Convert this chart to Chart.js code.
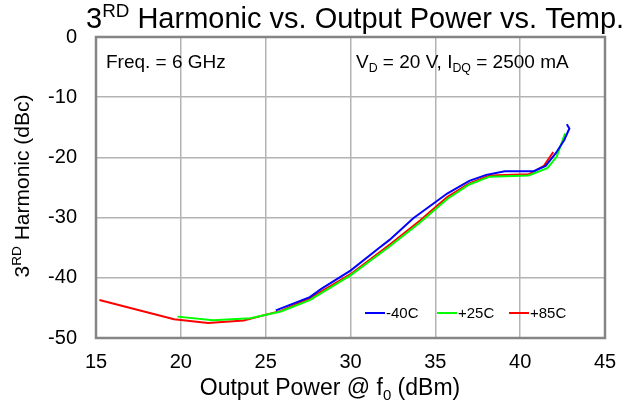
<!DOCTYPE html>
<html>
<head>
<meta charset="utf-8">
<script src="https://cdn.jsdelivr.net/npm/chart.js@4/dist/chart.umd.min.js"></script>
<style>
  html, body { margin: 0; padding: 0; background: #fff; }
  #chart { display: block; }
</style>
</head>
<body>
<canvas id="chart" width="639" height="410"></canvas>
<script>
  'use strict';

  // values: x = output power (dBm), y = 3rd harmonic (dBc)
  var xTicks = [15, 20, 25, 30, 35, 40, 45];
  var yTicks = [-50, -40, -30, -20, -10, 0];

  var seriesNames = ['-40C', '+25C', '+85C'];

  var coldX = [25.6, 27.6, 28.3, 30.0, 31.7, 32.3, 33.7, 35.7, 37.0, 38.0, 39.1, 40.8, 41.5, 42.1, 42.6, 42.9, 42.75];
  var coldY = [-45.4, -43.2, -41.8, -38.8, -35.0, -33.7, -30.1, -26.0, -23.9, -22.9, -22.3, -22.3, -21.4, -19.3, -17.1, -15.2, -14.5];

  var roomX = [19.8, 21.9, 24.1, 25.9, 27.6, 30.0, 32.3, 34.1, 35.7, 37.0, 38.2, 40.5, 41.6, 42.15, 42.65];
  var roomY = [-46.45, -47.05, -46.7, -45.6, -43.7, -39.6, -34.8, -30.8, -26.9, -24.5, -23.2, -23.0, -21.8, -19.9, -16.0];

  var hotX = [15.2, 19.6, 21.6, 23.7, 25.9, 27.6, 30.0, 32.3, 34.1, 35.7, 37.0, 38.2, 40.5, 41.4, 41.95];
  var hotY = [-43.7, -46.9, -47.5, -47.1, -45.5, -43.4, -39.4, -34.5, -30.5, -26.6, -24.3, -23.0, -22.8, -21.4, -19.1];

  var FONT = '"Liberation Sans", Arial, sans-serif';

  function pts(xs, ys) {
    return xs.map(function (x, i) {
      return { x: x, y: ys[i] };
    });
  }

  // text made of plain / sup / sub parts
  function richWidth(ctx, parts, size) {
    return parts.reduce(function (w, p) {
      ctx.font = (p.s ? size * 0.65 : size) + 'px ' + FONT;
      return w + ctx.measureText(p.t).width;
    }, 0);
  }

  function drawRich(ctx, parts, x, y, size) {
    parts.forEach(function (p) {
      var fs = p.s ? size * 0.65 : size;
      var dy = p.s === 'sup' ? -size * 0.38 : p.s === 'sub' ? size * 0.22 : 0;
      ctx.font = fs + 'px ' + FONT;
      ctx.fillText(p.t, x, y + dy);
      x += ctx.measureText(p.t).width;
    });
  }

  var decor = {
    id: 'decor',
    beforeDatasetsDraw: function (chart) {
      var a = chart.chartArea;
      var ctx = chart.ctx;
      ctx.save();
      ctx.strokeStyle = '#858585';
      ctx.lineWidth = 2.5;
      ctx.strokeRect(a.left, a.top, a.right - a.left, a.bottom - a.top);
      ctx.restore();
    },
    afterDraw: function (chart) {
      var ctx = chart.ctx;
      ctx.save();
      ctx.fillStyle = '#000';
      ctx.textAlign = 'left';
      ctx.textBaseline = 'alphabetic';

      // title
      drawRich(ctx, [{ t: '3' }, { t: 'RD', s: 'sup' }, { t: ' Harmonic vs. Output Power vs. Temp.' }], 86, 28, 29);

      // x axis title
      var xt = [{ t: 'Output Power @ f' }, { t: '0', s: 'sub' }, { t: ' (dBm)' }];
      var w = richWidth(ctx, xt, 23);
      drawRich(ctx, xt, 330 - w / 2, 395, 23);

      // y axis title
      var yt = [{ t: '3' }, { t: 'RD', s: 'sup' }, { t: ' Harmonic (dBc)' }];
      ctx.save();
      ctx.translate(29, 186);
      ctx.rotate(-Math.PI / 2);
      w = richWidth(ctx, yt, 21);
      drawRich(ctx, yt, -w / 2, 0, 21);
      ctx.restore();

      // notes inside the plot
      drawRich(ctx, [{ t: 'Freq. = 6 GHz' }], 106, 68, 19);
      drawRich(ctx, [{ t: 'V' }, { t: 'D', s: 'sub' }, { t: ' = 20 V, I' }, { t: 'DQ', s: 'sub' }, { t: ' = 2500 mA' }], 356, 68, 19);

      // legend
      var lx = [365, 437, 509];
      chart.data.datasets.forEach(function (ds, i) {
        ctx.strokeStyle = ds.borderColor;
        ctx.lineWidth = 2;
        ctx.beginPath();
        ctx.moveTo(lx[i], 313);
        ctx.lineTo(lx[i] + 20, 313);
        ctx.stroke();
        ctx.font = '15px ' + FONT;
        ctx.textBaseline = 'middle';
        ctx.fillText(ds.label, lx[i] + 21, 314);
      });
      ctx.restore();
    }
  };

  new Chart(document.getElementById('chart'), {
    type: 'line',
    data: {
      datasets: [
        { label: seriesNames[0], data: pts(coldX, coldY), borderColor: '#0000ff' },
        { label: seriesNames[1], data: pts(roomX, roomY), borderColor: '#00ff00' },
        { label: seriesNames[2], data: pts(hotX, hotY), borderColor: '#ff0000' }
      ]
    },
    options: {
      responsive: false,
      animation: false,
      devicePixelRatio: 1,
      layout: { padding: { top: 37, right: 34, left: 0, bottom: 0 } },
      elements: {
        line: { borderWidth: 2, tension: 0, fill: false },
        point: { radius: 0 }
      },
      plugins: { legend: { display: false }, tooltip: { enabled: false } },
      scales: {
        x: {
          type: 'linear',
          min: xTicks[0],
          max: xTicks[xTicks.length - 1],
          afterBuildTicks: function (s) {
            s.ticks = xTicks.map(function (v) { return { value: v }; });
          },
          afterFit: function (s) { s.height = 72; },
          grid: { color: '#b3b3b3', lineWidth: 1.5, drawTicks: false },
          border: { display: false },
          ticks: { color: '#000', padding: 12, font: { family: FONT, size: 20 } }
        },
        y: {
          type: 'linear',
          min: yTicks[0],
          max: yTicks[yTicks.length - 1],
          afterBuildTicks: function (s) {
            s.ticks = yTicks.map(function (v) { return { value: v }; });
          },
          afterFit: function (s) { s.width = 96; },
          grid: { color: '#b3b3b3', lineWidth: 1.5, drawTicks: false },
          border: { display: false },
          ticks: { color: '#000', padding: 19, font: { family: FONT, size: 20 } }
        }
      }
    },
    plugins: [decor]
  });
</script>
</body>
</html>
